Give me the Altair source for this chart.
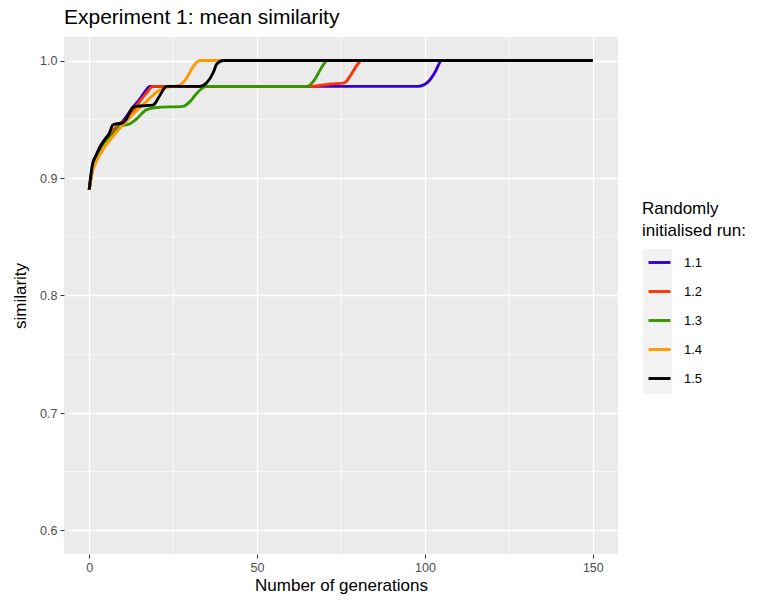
import altair as alt
import pandas as pd

runs = ["1.1", "1.2", "1.3", "1.4", "1.5"]
colors = ["#3300cc", "#ff3300", "#339900", "#ff9900", "#000000"]

gen_11 = [0, 1, 2, 3, 5, 7, 9, 11, 13, 15, 17, 18, 98, 101, 103, 105, 150]
sim_11 = [0.890, 0.908, 0.917, 0.925, 0.934, 0.940, 0.945, 0.952, 0.960, 0.967, 0.975, 0.978, 0.978, 0.982, 0.990, 1.0, 1.0]

gen_12 = [0, 1, 2, 3, 5, 7, 9, 11, 13, 15, 17, 19, 66, 72, 76, 78, 80, 81, 150]
sim_12 = [0.890, 0.908, 0.917, 0.925, 0.934, 0.940, 0.946, 0.950, 0.957, 0.965, 0.972, 0.978, 0.978, 0.980, 0.981, 0.988, 0.997, 1.0, 1.0]

gen_13 = [0, 1, 2, 3, 5, 7, 9, 12, 14, 17, 20, 28, 30, 32, 34, 35, 65, 67, 69, 71, 150]
sim_13 = [0.890, 0.908, 0.916, 0.923, 0.932, 0.937, 0.944, 0.946, 0.950, 0.958, 0.960, 0.961, 0.965, 0.972, 0.977, 0.978, 0.978, 0.983, 0.993, 1.0, 1.0]

gen_14 = [0, 1, 2, 3, 5, 7, 9, 11, 14, 17, 20, 23, 27, 29, 31, 33, 150]
sim_14 = [0.890, 0.906, 0.913, 0.919, 0.928, 0.935, 0.942, 0.948, 0.957, 0.965, 0.973, 0.977, 0.979, 0.985, 0.995, 1.0, 1.0]

gen_15 = [0, 1, 2, 3, 4, 5, 6, 7, 8, 10, 11, 13, 14, 19, 21, 23, 33, 35, 37, 38, 40, 150]
sim_15 = [0.890, 0.912, 0.919, 0.925, 0.930, 0.934, 0.938, 0.945, 0.946, 0.947, 0.950, 0.960, 0.961, 0.962, 0.970, 0.978, 0.978, 0.981, 0.990, 0.997, 1.0, 1.0]

x_minor = [25, 75, 125]
y_minor = [0.65, 0.75, 0.85, 0.95]

rows = []
for r, g, s in zip(runs, [gen_11, gen_12, gen_13, gen_14, gen_15],
                   [sim_11, sim_12, sim_13, sim_14, sim_15]):
    for gi, si in zip(g, s):
        rows.append({"run": r, "gen": gi, "sim": si})
df = pd.DataFrame(rows)

FONT = "Liberation Sans"
xscale = alt.Scale(domain=[-7.5, 157.5], nice=False, zero=False)
yscale = alt.Scale(domain=[0.58, 1.02], nice=False, zero=False)

xaxis = alt.Axis(title="Number of generations", values=[0, 50, 100, 150],
                 format="d", grid=True, gridColor="white", gridWidth=1.4,
                 domain=False, tickColor="#333333", tickSize=4,
                 labelColor="#4d4d4d", labelFontSize=12.5, labelFont=FONT,
                 labelPadding=3, titleFont=FONT, titleFontSize=17,
                 titleFontWeight="normal", titleColor="black",
                 titlePadding=4)
yaxis = alt.Axis(title="similarity", values=[0.6, 0.7, 0.8, 0.9, 1.0],
                 format=".1f", grid=True, gridColor="white", gridWidth=1.4,
                 domain=False, tickColor="#333333", tickSize=4,
                 labelColor="#4d4d4d", labelFontSize=12.5, labelFont=FONT,
                 labelPadding=3, titleFont=FONT, titleFontSize=17,
                 titleFontWeight="normal", titleColor="black",
                 titlePadding=10)

lines = alt.Chart(df).mark_line(strokeWidth=2.9, interpolate="monotone").encode(
    x=alt.X("gen:Q", scale=xscale, axis=xaxis),
    y=alt.Y("sim:Q", scale=yscale, axis=yaxis),
    color=alt.Color("run:N", scale=alt.Scale(domain=runs, range=colors),
                    legend=alt.Legend(title=["Randomly", "initialised run:"],
                                      orient="none", legendX=578, legendY=164,
                                      titleFont=FONT, titleFontSize=17,
                                      titleFontWeight="normal", titleColor="black",
                                      titleLineHeight=22, titlePadding=8,
                                      labelFont=FONT, labelFontSize=13,
                                      labelColor="black", symbolType="stroke",
                                      symbolSize=484, symbolStrokeWidth=2.9,
                                      symbolOffset=5, labelOffset=12,
                                      clipHeight=29, rowPadding=0, padding=0)),
    order=alt.Order("gen:Q"),
)

xminor = alt.Chart(pd.DataFrame({"v": x_minor})).mark_rule(
    color="white", strokeWidth=0.7).encode(x=alt.X("v:Q", scale=xscale, axis=xaxis))
yminor = alt.Chart(pd.DataFrame({"v": y_minor})).mark_rule(
    color="white", strokeWidth=0.7).encode(y=alt.Y("v:Q", scale=yscale, axis=yaxis))

keybg = alt.Chart(pd.DataFrame({"k": [0]})).mark_rect(
    color="#f2f2f2", clip=False).encode(
    x=alt.value(579), x2=alt.value(608), y=alt.value(212), y2=alt.value(357))

chart = alt.layer(keybg, xminor, yminor, lines).properties(
    width=554, height=517,
    background="white",
    title=alt.Title("Experiment 1: mean similarity", anchor="start", frame="group",
                    font=FONT, fontSize=21, fontWeight="normal", color="black",
                    offset=9),
    autosize=alt.AutoSizeParams(type="none"),
    padding={"left": 56, "top": 29, "right": 130, "bottom": 42},
).configure_view(fill="#ebebeb", stroke=None)

chart.save("out.html", embed_options={"renderer": "svg", "actions": False})
